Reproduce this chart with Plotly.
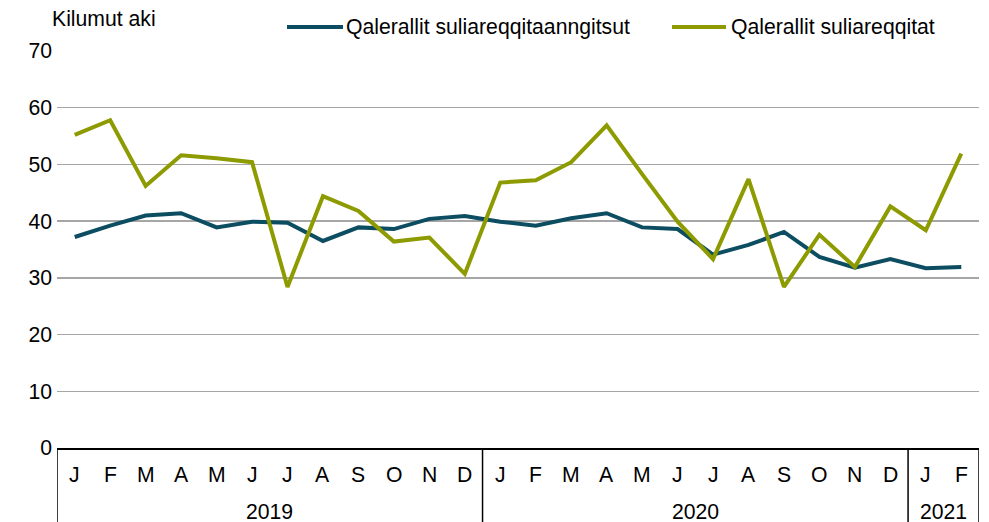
import plotly.graph_objects as go

months = ["J","F","M","A","M","J","J","A","S","O","N","D",
          "J","F","M","A","M","J","J","A","S","O","N","D",
          "J","F"]
years = ["2019", "2020", "2021"]
year_spans = [(0, 11), (12, 23), (24, 25)]

series_names = ["Qalerallit suliareqqitaanngitsut", "Qalerallit suliareqqitat"]
not_processed = [37.2, 39.2, 41.0, 41.4, 38.9, 39.9, 39.7, 36.5, 38.9, 38.6, 40.4, 40.9,
                 39.9, 39.2, 40.5, 41.4, 38.9, 38.6, 34.1, 35.8, 38.1, 33.7, 31.8, 33.3,
                 31.7, 31.9]
processed = [55.2, 57.8, 46.2, 51.6, 51.1, 50.4, 28.4, 44.4, 41.8, 36.4, 37.1, 30.7,
             46.8, 47.2, 50.4, 56.9, 48.3, 39.9, 33.3, 47.4, 28.4, 37.6, 31.9, 42.6,
             38.4, 51.9]
colors = ["#0C4D61", "#8D9B00"]
y_ticks = [0, 10, 20, 30, 40, 50, 60, 70]

FONT = "Liberation Sans, Arial, sans-serif"
FS = 21.2
W, H = 989, 522
L, R, T, B = 57, 10, 51, 74
PW, PH = W - L - R, H - T - B

x = list(range(len(months)))
fig = go.Figure()
for name, vals, col in zip(series_names, [not_processed, processed], colors):
    fig.add_trace(go.Scatter(x=x, y=vals, mode="lines", name=name,
                             line=dict(color=col, width=4), showlegend=False))

def px_x(p):
    return (p - L) / PW

def px_y(p):
    return (H - B - p) / PH

annotations = []
shapes = []
# month labels
for i, m in enumerate(months):
    annotations.append(dict(x=i, y=0, xref="x", yref="paper", text=m, showarrow=False,
                            yanchor="middle", yshift=-26,
                            font=dict(size=FS, color="black", family=FONT)))
# year labels & dividers
for yr, (a, b) in zip(years, year_spans):
    annotations.append(dict(x=(a + b) / 2, y=0, xref="x", yref="paper", text=yr, showarrow=False,
                            yanchor="middle", yshift=-63,
                            font=dict(size=FS, color="black", family=FONT)))
divs = [-0.5] + [b + 0.5 for (_, b) in year_spans]
for d in divs:
    shapes.append(dict(type="line", xref="x", yref="paper", x0=d, x1=d, y0=0, y1=px_y(H + 2),
                       line=dict(color="black", width=1.5)))
# y-axis title
annotations.append(dict(x=px_x(50), y=px_y(19), xref="paper", yref="paper", text="Kilumut aki",
                        showarrow=False, xanchor="left", yanchor="middle",
                        font=dict(size=FS, color="black", family=FONT)))
# legend
leg = [(287, 343, 344), (672, 726, 729)]
for (x0, x1, tx), name, col in zip(leg, series_names, colors):
    shapes.append(dict(type="line", xref="paper", yref="paper", x0=px_x(x0), x1=px_x(x1),
                       y0=px_y(27), y1=px_y(27), line=dict(color=col, width=4)))
    annotations.append(dict(x=px_x(tx), y=px_y(27), xref="paper", yref="paper", text=name,
                            showarrow=False, xanchor="left", yanchor="middle",
                            font=dict(size=FS, color="black", family=FONT)))

fig.update_layout(
    width=W, height=H,
    margin=dict(l=L, r=R, t=T, b=B, pad=0, autoexpand=False),
    paper_bgcolor="white", plot_bgcolor="white",
    font=dict(family=FONT, size=FS, color="black"),
    showlegend=False,
    annotations=annotations, shapes=shapes,
    xaxis=dict(range=[-0.5, len(months) - 0.5], showticklabels=False, showgrid=False,
               zeroline=False, showline=True, linecolor="black", linewidth=1.5, ticks="",
               automargin=False),
    yaxis=dict(range=[0, 70], tickvals=y_ticks, showgrid=True, gridcolor="#A6A6A6", gridwidth=1.5,
               zeroline=False, showline=False, ticks="", ticklabelstandoff=4, automargin=False,
               tickfont=dict(size=FS, color="black", family=FONT)),
)
fig.write_html("out.html", config={"displayModeBar": False, "staticPlot": True},
               post_script="document.body.style.margin='0';document.body.style.overflow='hidden';")
